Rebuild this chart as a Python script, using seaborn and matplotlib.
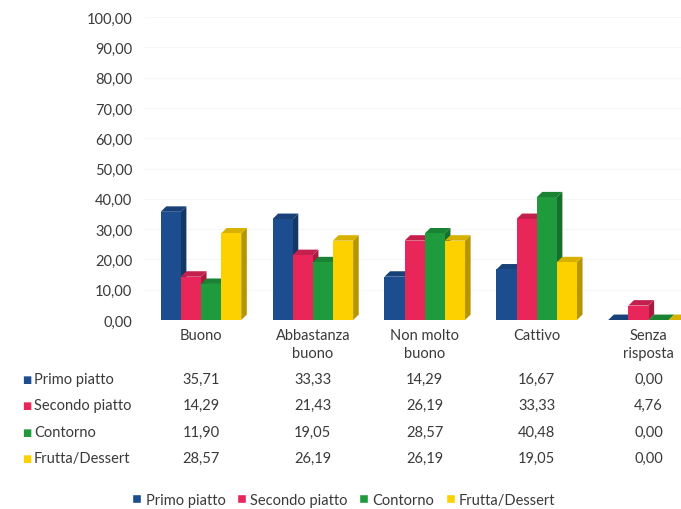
import matplotlib
matplotlib.use("Agg")
import matplotlib.pyplot as plt
import matplotlib.transforms as mtransforms
from matplotlib.colors import to_rgb
from matplotlib.patches import Polygon
from matplotlib.ticker import FuncFormatter, MultipleLocator
import numpy as np
import pandas as pd
import seaborn as sns

categories = ["Buono", "Abbastanza\nbuono", "Non molto\nbuono", "Cattivo", "Senza\nrisposta"]
series = ["Primo piatto", "Secondo piatto", "Contorno", "Frutta/Dessert"]
primo = [35.71, 33.33, 14.29, 16.67, 0.00]
secondo = [14.29, 21.43, 26.19, 33.33, 4.76]
contorno = [11.90, 19.05, 28.57, 40.48, 0.00]
frutta = [28.57, 26.19, 26.19, 19.05, 0.00]
colors = ["#1c4d8e", "#e8265a", "#1f9a3c", "#fdd000"]

values = [primo, secondo, contorno, frutta]
df = pd.DataFrame(
    [(cat, s, v) for s, vals in zip(series, values) for cat, v in zip(categories, vals)],
    columns=["categoria", "serie", "valore"],
)


def fmt(v):
    return f"{v:.2f}".replace(".", ",")


sns.set_theme(style="white")
plt.rcParams["font.family"] = ["Lato", "DejaVu Sans"]
text_color = "#3a3a3a"

fig = plt.figure(figsize=(6.81, 5.10), dpi=100)
ax = fig.add_axes([145 / 681, 1 - 321 / 510, 536 / 681, 303 / 510])

sns.barplot(data=df, x="categoria", y="valore", hue="serie", hue_order=series,
            palette=colors, width=0.72, saturation=1, ax=ax, legend=True)

# fake 3D look: side and top face on each bar, later series drawn on top
dx, dy = 0.05, 1.8
for i, patch in enumerate(ax.patches[:len(df)]):
    x0, y0 = patch.get_x(), patch.get_y()
    w, h = patch.get_width(), patch.get_height()
    base = np.array(to_rgb(patch.get_facecolor()))
    z = 2 + series.index(df.iloc[i]["serie"]) * 0.3
    patch.set_zorder(z)
    patch.set_edgecolor("none")
    side = Polygon([(x0 + w, y0), (x0 + w + dx, y0 + dy), (x0 + w + dx, y0 + h + dy), (x0 + w, y0 + h)],
                   closed=True, facecolor=base * 0.72, edgecolor="none", zorder=z - 0.1)
    top = Polygon([(x0, y0 + h), (x0 + dx, y0 + h + dy), (x0 + w + dx, y0 + h + dy), (x0 + w, y0 + h)],
                  closed=True, facecolor=base * 0.85, edgecolor="none", zorder=z - 0.1)
    ax.add_patch(side)
    ax.add_patch(top)

ax.set_xlim(-0.5, 4.29)
ax.set_ylim(0, 100)
ax.yaxis.set_major_locator(MultipleLocator(10))
ax.yaxis.set_major_formatter(FuncFormatter(lambda v, p: fmt(v)))
ax.grid(axis="y", color="#f6f6f6", linewidth=0.8, zorder=0)
ax.set_axisbelow(True)
for sp in ax.spines.values():
    sp.set_visible(False)
ax.tick_params(axis="y", length=0, pad=9, labelsize=10.5, labelcolor=text_color)
ax.tick_params(axis="x", length=0, pad=6, labelsize=10.5, labelcolor=text_color)
for lab in ax.get_xticklabels():
    lab.set_linespacing(1.35)
    lab.set_verticalalignment("top")
ax.set_xlabel("")
ax.set_ylabel("")

handles, labels = ax.get_legend_handles_labels()
ax.get_legend().remove()

# data table under the chart
trans = mtransforms.blended_transform_factory(ax.transData, fig.transFigure)
row_y = [1 - 380 / 510, 1 - 406 / 510, 1 - 433 / 510, 1 - 459 / 510]
for s, vals, col, yy in zip(series, values, colors, row_y):
    fig.text(22 / 681, yy, "\u25a0", color=col, fontsize=7, va="center", ha="left",
             family=["DejaVu Sans"])
    fig.text(34 / 681, yy, s, color=text_color, fontsize=10.5, va="center", ha="left")
    for j, v in enumerate(vals):
        ax.text(j, yy, fmt(v), transform=trans, color=text_color, fontsize=10.5,
                va="center", ha="center")

fig.legend(handles, labels, loc="center", bbox_to_anchor=(344 / 681, 1 - 501 / 510), ncol=4,
           frameon=False, fontsize=10.5, handlelength=0.6, handleheight=0.6,
           handletextpad=0.3, columnspacing=0.8, labelcolor=text_color)

fig.savefig("out.png", dpi=100)
